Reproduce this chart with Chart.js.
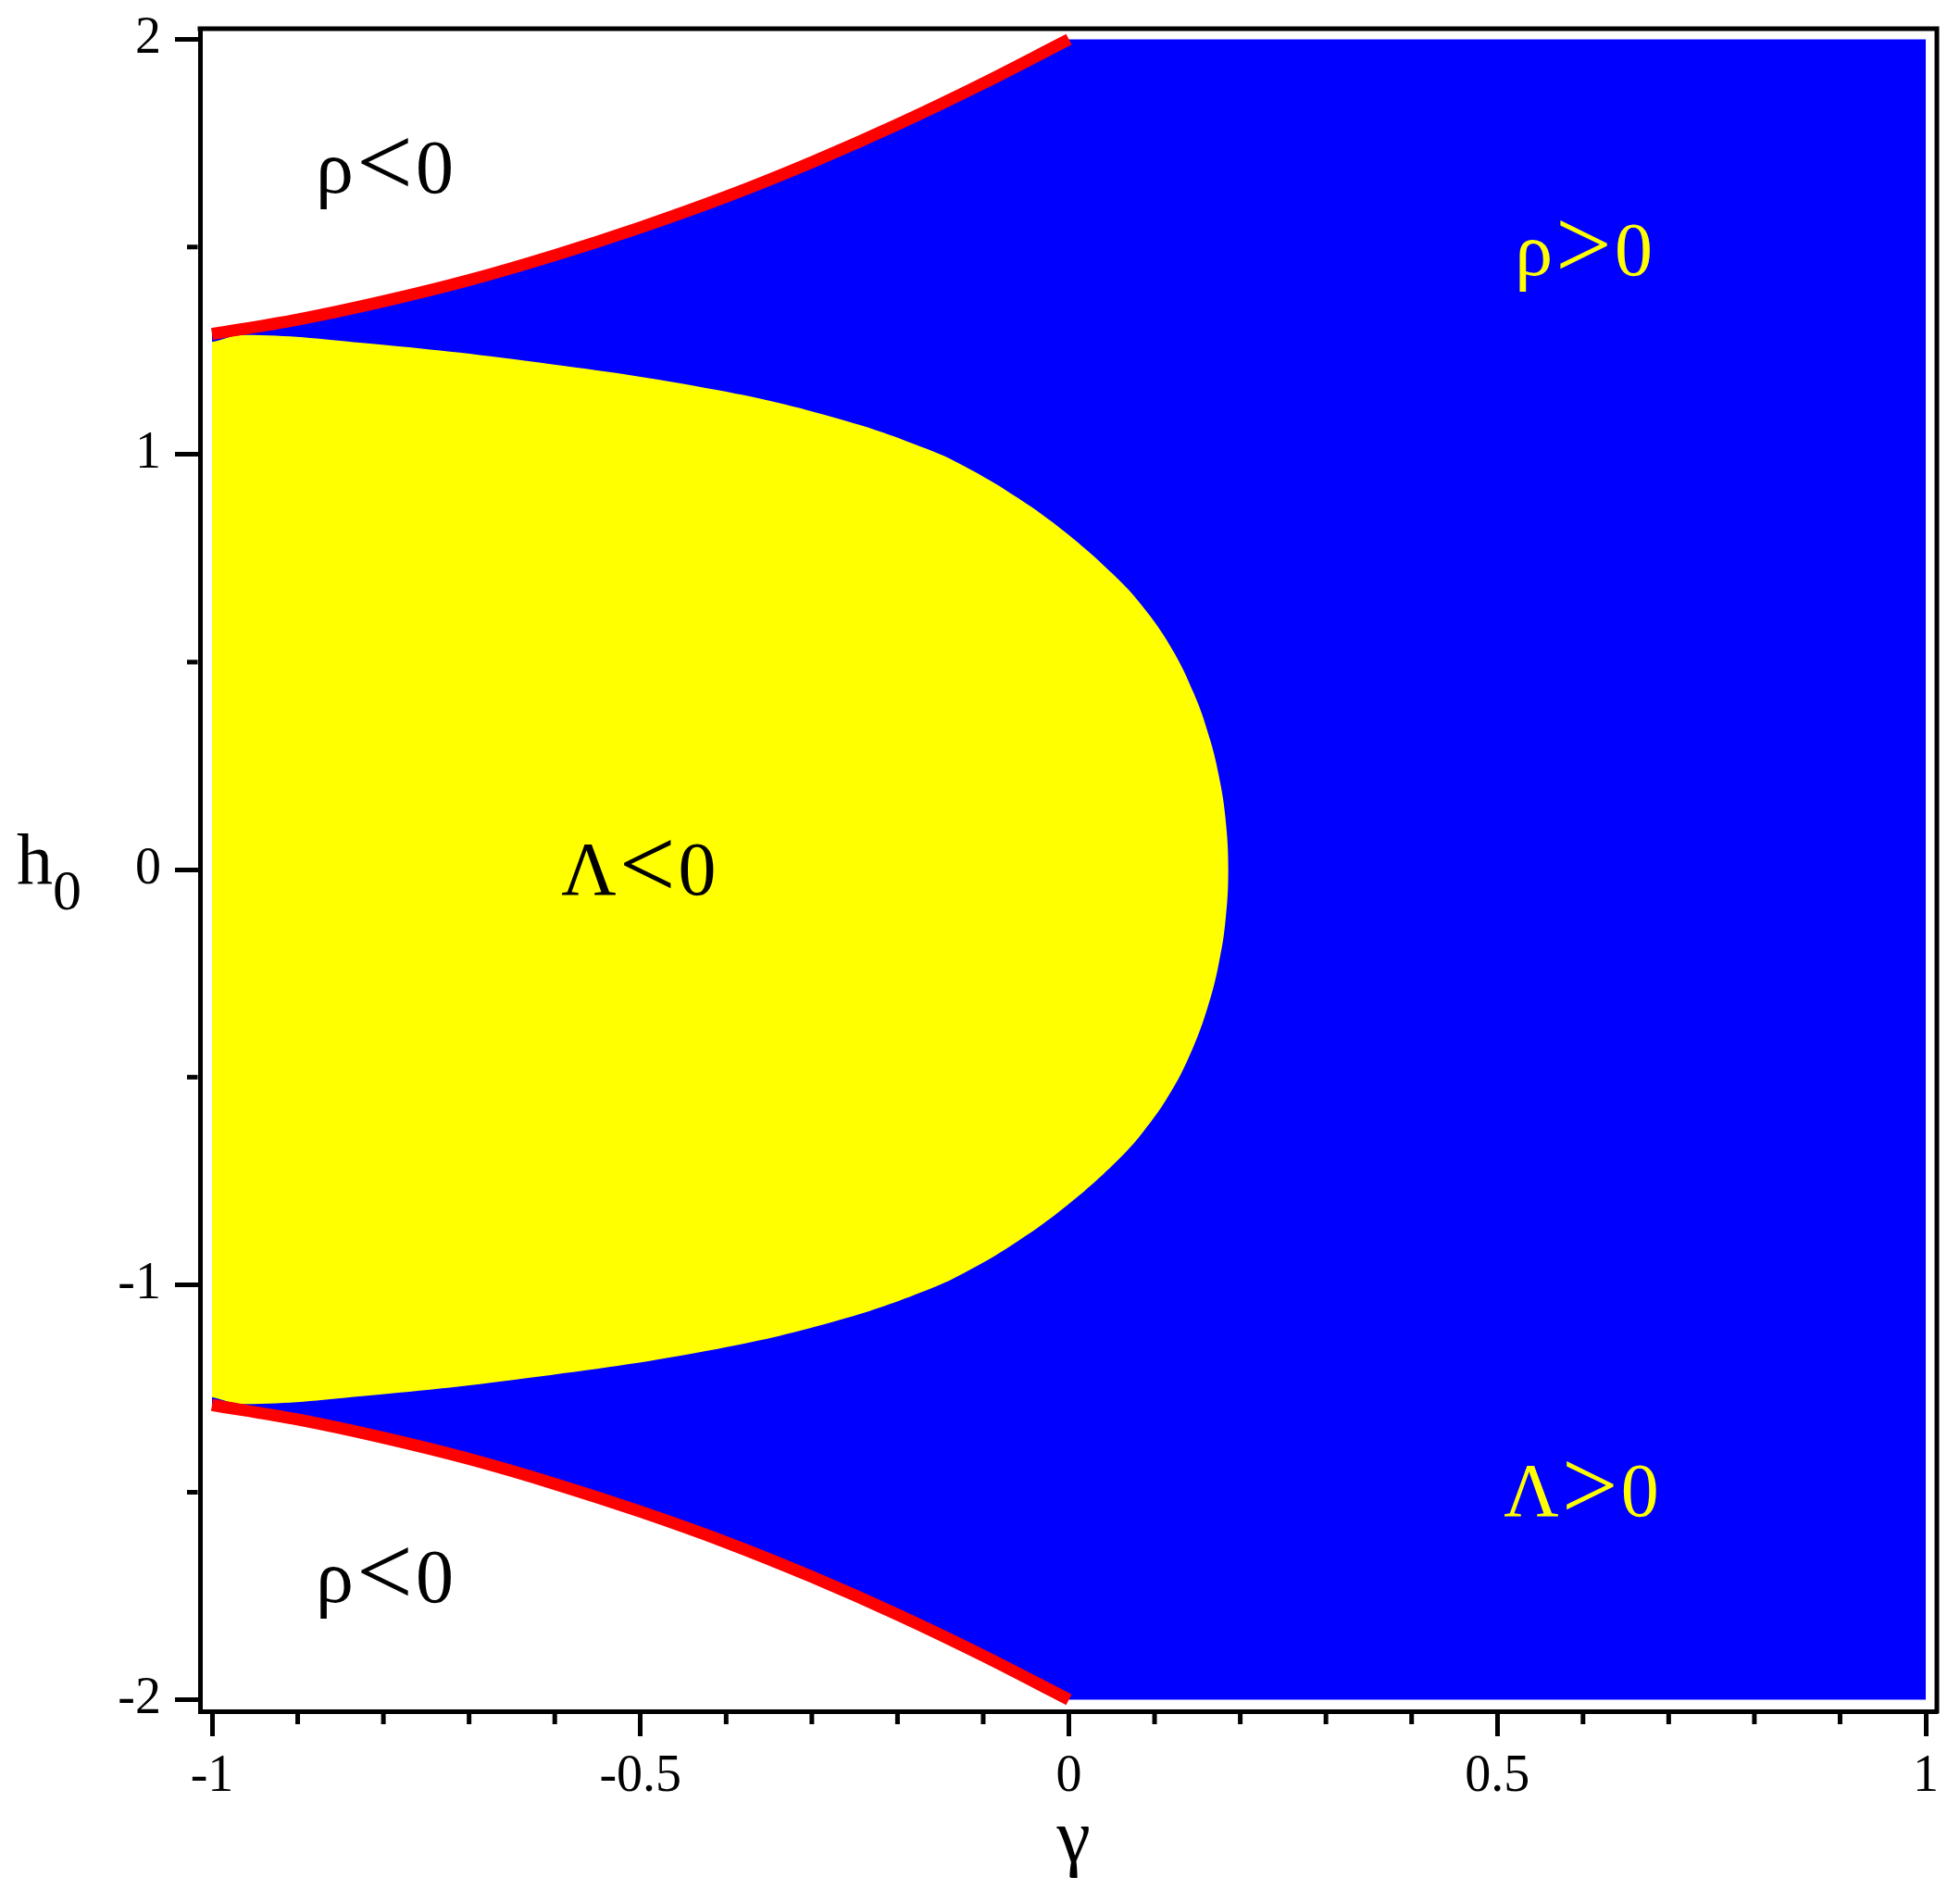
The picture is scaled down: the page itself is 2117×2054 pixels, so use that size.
<!DOCTYPE html>
<html>
<head>
<meta charset="utf-8">
<script src="https://cdn.jsdelivr.net/npm/chart.js@4.4.1/dist/chart.umd.min.js"></script>
<style>
    html, body { margin: 0; padding: 0; background: #ffffff; }
    canvas { display: block; }
</style>
</head>
<body>
<canvas id="region-chart" width="2117" height="2054"></canvas>
<script>
// rho = 0 boundary (red)
const gammaRed = [-1, -0.9, -0.8, -0.7, -0.6, -0.5, -0.4, -0.3, -0.2, -0.1, 0];
const redUpper = [1.29, 1.325, 1.369, 1.42, 1.48, 1.547, 1.621, 1.704, 1.795, 1.894, 2.0];
const redLower = [-1.29, -1.325, -1.369, -1.42, -1.48, -1.547, -1.621, -1.704, -1.795, -1.894, -2.0];

// blue region continues to the right edge
const gammaRight = [1];
const blueTop = [2];
const blueBottom = [-2];

// Lambda = 0 boundary (yellow region)
const gammaYellow = [-1, -0.962, -0.825, -0.62, -0.41, -0.267, -0.165, -0.115, -0.0586, -0.0039,
    0.0512, 0.0859, 0.1196, 0.1463, 0.164, 0.1747, 0.1826, 0.186];
const yellowUpper = [1.271, 1.288, 1.269, 1.222, 1.155, 1.085, 1.013, 0.964, 0.894, 0.812,
    0.712, 0.634, 0.534, 0.422, 0.318, 0.229, 0.126, 0];
const yellowLower = [-1.271, -1.288, -1.269, -1.222, -1.155, -1.085, -1.013, -0.964, -0.894, -0.812,
    -0.712, -0.634, -0.534, -0.422, -0.318, -0.229, -0.126, 0];

// ticks
const xMajor = [-1, -0.5, 0, 0.5, 1];
const xMinor = [-0.9, -0.8, -0.7, -0.6, -0.4, -0.3, -0.2, -0.1, 0.1, 0.2, 0.3, 0.4, 0.6, 0.7, 0.8, 0.9];
const yMajor = [-2, -1, 0, 1, 2];
const yMinor = [-1.5, -0.5, 0.5, 1.5];

// region texts: symbol, relation, value
const regionTexts = [['ρ', '<', '0'], ['ρ', '<', '0'], ['Λ', '<', '0'], ['ρ', '>', '0'], ['Λ', '>', '0']];
const regionGamma = [-0.7985, -0.7985, -0.502, 0.6008, 0.598];
const regionH = [1.63, -1.764, -0.061, 1.433, -1.558];
const regionColors = ['#000000', '#000000', '#000000', '#ffff00', '#ffff00'];

const toPoints = (xs, ys) => xs.map((x, i) => ({ x: x, y: ys[i] }));

// closed outline of the yellow region: upper edge out to the tip, lower edge back
const yellowOutline = toPoints(gammaYellow, yellowUpper)
    .concat(toPoints(gammaYellow, yellowLower).reverse().slice(1));

const SERIF = "'Liberation Serif', 'Times New Roman', serif";

function drawRegionText(ctx, parts, cx, baseline) {
    const sizes = [82, 108, 82];
    const shift = [0, 3, 0];
    const gap = 3;
    const widths = parts.map((t, i) => {
        ctx.font = sizes[i] + 'px ' + SERIF;
        return ctx.measureText(t).width;
    });
    const total = widths.reduce((a, b) => a + b, 0) + gap * (parts.length - 1);
    let left = cx - total / 2;
    parts.forEach((t, i) => {
        ctx.font = sizes[i] + 'px ' + SERIF;
        ctx.fillText(t, left, baseline + shift[i]);
        left += widths[i] + gap;
    });
}

// frame, minor ticks, axis titles and region texts
const decorations = {
    id: 'decorations',
    afterDraw(chart) {
        const { ctx, chartArea } = chart;
        const x = chart.scales.x;
        const y = chart.scales.y;
        ctx.save();

        ctx.strokeStyle = '#000000';
        ctx.lineWidth = 5;
        ctx.beginPath();
        ctx.moveTo(chartArea.left - 2.5, chartArea.top);
        ctx.lineTo(chartArea.right, chartArea.top);
        ctx.lineTo(chartArea.right, chartArea.bottom + 2.5);
        ctx.stroke();

        // minor ticks
        ctx.beginPath();
        xMinor.forEach(v => {
            const px = x.getPixelForValue(v);
            ctx.moveTo(px, chartArea.bottom + 2.5);
            ctx.lineTo(px, chartArea.bottom + 14);
        });
        yMinor.forEach(v => {
            const py = y.getPixelForValue(v);
            ctx.moveTo(chartArea.left - 2.5, py);
            ctx.lineTo(chartArea.left - 14, py);
        });
        ctx.stroke();

        // axis titles
        ctx.fillStyle = '#000000';
        ctx.textBaseline = 'alphabetic';
        ctx.textAlign = 'center';
        ctx.font = '82px ' + SERIF;
        ctx.fillText('γ', x.getPixelForValue(0) + 5, 2010);

        ctx.textAlign = 'left';
        const y0 = y.getPixelForValue(0);
        ctx.font = '78px ' + SERIF;
        ctx.fillText('h', 18, y0 + 16);
        ctx.font = '62px ' + SERIF;
        ctx.fillText('0', 57, y0 + 43);

        // region texts
        regionTexts.forEach((parts, i) => {
            ctx.fillStyle = regionColors[i];
            drawRegionText(ctx, parts, x.getPixelForValue(regionGamma[i]), y.getPixelForValue(regionH[i]));
        });

        ctx.restore();
    }
};

const ctx = document.getElementById('region-chart').getContext('2d');
new Chart(ctx, {
    type: 'line',
    data: {
        datasets: [
            {
                label: 'blue top',
                data: toPoints(gammaRed, redUpper).concat(toPoints(gammaRight, blueTop)),
                borderWidth: 0,
                backgroundColor: '#0000ff',
                fill: '+1',
                order: 5
            },
            {
                label: 'blue bottom',
                data: toPoints(gammaRed, redLower).concat(toPoints(gammaRight, blueBottom)),
                borderWidth: 0,
                fill: false,
                order: 4
            },
            {
                label: 'yellow region',
                data: yellowOutline,
                borderWidth: 0,
                backgroundColor: '#ffff00',
                fill: 'shape',
                cubicInterpolationMode: 'default',
                tension: 0.4,
                order: 3
            },
            {
                label: 'rho upper',
                data: toPoints(gammaRed, redUpper),
                borderColor: '#ff0000',
                borderWidth: 13,
                borderCapStyle: 'butt',
                fill: false,
                order: 1
            },
            {
                label: 'rho lower',
                data: toPoints(gammaRed, redLower),
                borderColor: '#ff0000',
                borderWidth: 13,
                borderCapStyle: 'butt',
                fill: false,
                order: 0
            }
        ]
    },
    options: {
        responsive: false,
        devicePixelRatio: 1,
        animation: false,
        events: [],
        layout: { padding: { top: 31, right: 25, left: 0, bottom: 0 } },
        elements: {
            point: { radius: 0 },
            line: { cubicInterpolationMode: 'monotone' }
        },
        plugins: {
            legend: { display: false },
            tooltip: { enabled: false }
        },
        scales: {
            x: {
                type: 'linear',
                min: -1.01405,
                max: 1.01296,
                afterBuildTicks: scale => { scale.ticks = xMajor.map(v => ({ value: v })); },
                afterFit: scale => {
                    scale.height = 206;
                    scale.paddingLeft = 0;
                    scale.paddingRight = 0;
                },
                ticks: {
                    autoSkip: false,
                    maxRotation: 0,
                    padding: 11,
                    color: '#000000',
                    font: { family: SERIF, size: 56 },
                    callback: v => String(v)
                },
                grid: {
                    drawOnChartArea: false,
                    tickLength: 27,
                    tickWidth: 5,
                    tickColor: '#000000'
                },
                border: { display: true, width: 5, color: '#000000' }
            },
            y: {
                type: 'linear',
                min: -2.02788,
                max: 2.02566,
                afterBuildTicks: scale => { scale.ticks = yMajor.map(v => ({ value: v })); },
                afterFit: scale => {
                    scale.width = 216;
                    scale.paddingTop = 0;
                    scale.paddingBottom = 0;
                },
                ticks: {
                    autoSkip: false,
                    padding: 15,
                    color: '#000000',
                    font: { family: SERIF, size: 56 },
                    callback: v => String(v)
                },
                grid: {
                    drawOnChartArea: false,
                    tickLength: 27,
                    tickWidth: 5,
                    tickColor: '#000000'
                },
                border: { display: true, width: 5, color: '#000000' }
            }
        }
    },
    plugins: [decorations]
});
</script>
</body>
</html>
